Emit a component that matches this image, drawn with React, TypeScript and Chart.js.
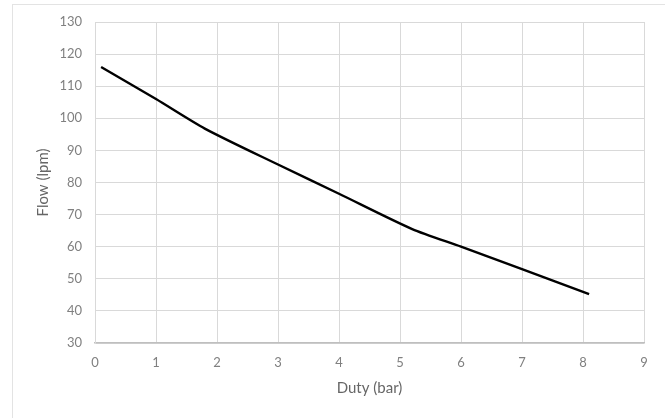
import React, { useEffect, useRef } from "react";
import { Chart, registerables } from "chart.js";

Chart.register(...registerables);

const dutyBar = [0.1, 1, 1.8, 3, 4, 5.2, 6, 7, 8.1];
const flowLpm = [116, 106, 96.8, 85.6, 76.5, 65.5, 60, 53, 45.2];
const xTitle = "Duty (bar)";
const yTitle = "Flow (lpm)";

const W = 665;
const H = 418;

export default function App() {
  const ref = useRef<HTMLCanvasElement | null>(null);

  useEffect(() => {
    document.body.style.margin = "0";
    const canvas = ref.current;
    if (!canvas) return;
    const tickFont = { family: "Lato, 'Open Sans', sans-serif", size: 13 };
    const titleFont = { family: "Lato, 'Open Sans', sans-serif", size: 15 };
    const chart = new Chart(canvas, {
      type: "line",
      data: {
        datasets: [
          {
            data: dutyBar.map((x, i) => ({ x, y: flowLpm[i] })),
            borderColor: "#000000",
            borderWidth: 2.4,
            pointRadius: 0,
            tension: 0.25,
            fill: false,
          },
        ],
      },
      options: {
        animation: false,
        responsive: false,
        maintainAspectRatio: false,
        layout: { padding: { top: 22, right: 21, left: 0, bottom: 0 } },
        plugins: { legend: { display: false }, tooltip: { enabled: false } },
        scales: {
          x: {
            type: "linear",
            min: 0,
            max: 9,
            ticks: { stepSize: 1, color: "#808080", font: tickFont, padding: 12 },
            grid: { color: "#d9d9d9", lineWidth: 1, drawTicks: false },
            border: { color: "#bfbfbf", width: 1.5 },
            title: {
              display: true,
              text: xTitle,
              color: "#666666",
              font: titleFont,
              padding: { top: 0, bottom: 21 },
            },
            afterFit: (s: any) => {
              s.height = 75;
            },
          },
          y: {
            type: "linear",
            min: 30,
            max: 130,
            ticks: { stepSize: 10, color: "#808080", font: tickFont, padding: 13 },
            grid: { color: "#d9d9d9", lineWidth: 1, drawTicks: false },
            border: { color: "#d9d9d9", width: 1 },
            title: {
              display: true,
              text: yTitle,
              color: "#666666",
              font: titleFont,
              padding: { top: 34, bottom: 0 },
            },
            afterFit: (s: any) => {
              s.width = 95;
            },
          },
        },
      },
    });
    return () => chart.destroy();
  }, []);

  return (
    <div style={{ position: "relative", width: W, height: H, overflow: "hidden", background: "#fff" }}>
      <div
        style={{
          position: "absolute",
          left: 12,
          top: 4,
          width: W,
          height: H,
          borderTop: "1.5px solid #e3e3e3",
          borderLeft: "1.5px solid #e3e3e3",
        }}
      />
      <canvas ref={ref} width={W} height={H} style={{ position: "absolute", left: 0, top: 0, width: W, height: H }} />
    </div>
  );
}
